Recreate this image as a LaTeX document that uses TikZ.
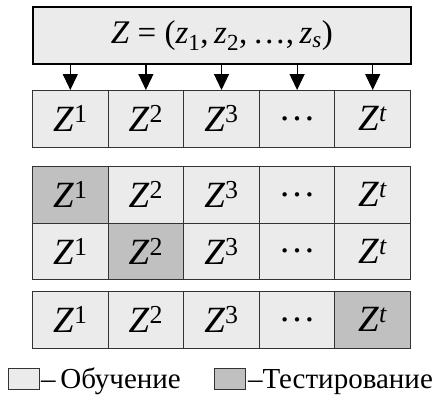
\documentclass[tikz,border=0pt]{standalone}
\usepackage{fontspec}
\setmainfont{Liberation Serif}
\usetikzlibrary{arrows.meta}
\definecolor{trainfill}{HTML}{EBEBEB}
\definecolor{testfill}{HTML}{C0C0C0}
\newcommand\zz[1]{\textit{Z}\textsuperscript{#1}}
\begin{document}
\begin{tikzpicture}[x=1pt,y=-1pt,
  cell/.style={draw=black!80, line width=1pt, minimum width=75.6pt, minimum height=56.5pt,
    inner sep=0pt, anchor=north west, font=\fontsize{37}{37}\selectfont},
  train/.style={cell, fill=trainfill},
  test/.style={cell, fill=testfill},
  legbox/.style={draw=black!80, line width=0.8pt, minimum width=31pt, minimum height=21pt,
    inner sep=0pt, anchor=north west},
  legtext/.style={anchor=base west, inner sep=0pt, font=\fontsize{29}{29}\selectfont},
  split/.style={draw=black, line width=1.2pt,
    -{Triangle[length=16pt,width=15pt]}}]
\useasboundingbox (0,0) rectangle (438,396);

% whole sample
\node[draw, line width=1.8pt, fill=trainfill, anchor=north west, minimum width=378pt,
  minimum height=57pt, inner sep=0pt, font=\fontsize{33}{33}\selectfont] (top) at (32,6)
  {\textit{Z} = (\textit{z}\textsubscript{1},\,\textit{z}\textsubscript{2},\,…,\,\textit{z}\textsubscript{\textit{s}})};

% partition rows
\foreach \r/\y/\k in {1/90/0, 2/166/1, 3/222.5/2, 4/291/5}{
  \foreach \c/\lab in {1/\zz{1}, 2/\zz{2}, 3/\zz{3}, 4/…, 5/\zz{\textit{t}}}{
    \ifnum\c=\k
      \node[test] (c\r-\c) at ({32+75.6*(\c-1)},\y) {\lab};
    \else
      \node[train] (c\r-\c) at ({32+75.6*(\c-1)},\y) {\lab};
    \fi
  }
}

% split arrows
\foreach \c in {1,...,5}{
  \draw[split] (top.south -| c1-\c.north) -- (c1-\c.north);
}

% legend
\node[legbox, fill=trainfill] (lb1) at (8,368) {};
\node[legtext] (lt1) at ([xshift=1pt,yshift=1pt]lb1.south east) {–\,Обучение};
\node[legbox, fill=testfill] (lb2) at (214,368) {};
\node[legtext] (lt2) at ([xshift=2pt,yshift=1pt]lb2.south east) {–Тестирование};
\end{tikzpicture}
\end{document}
